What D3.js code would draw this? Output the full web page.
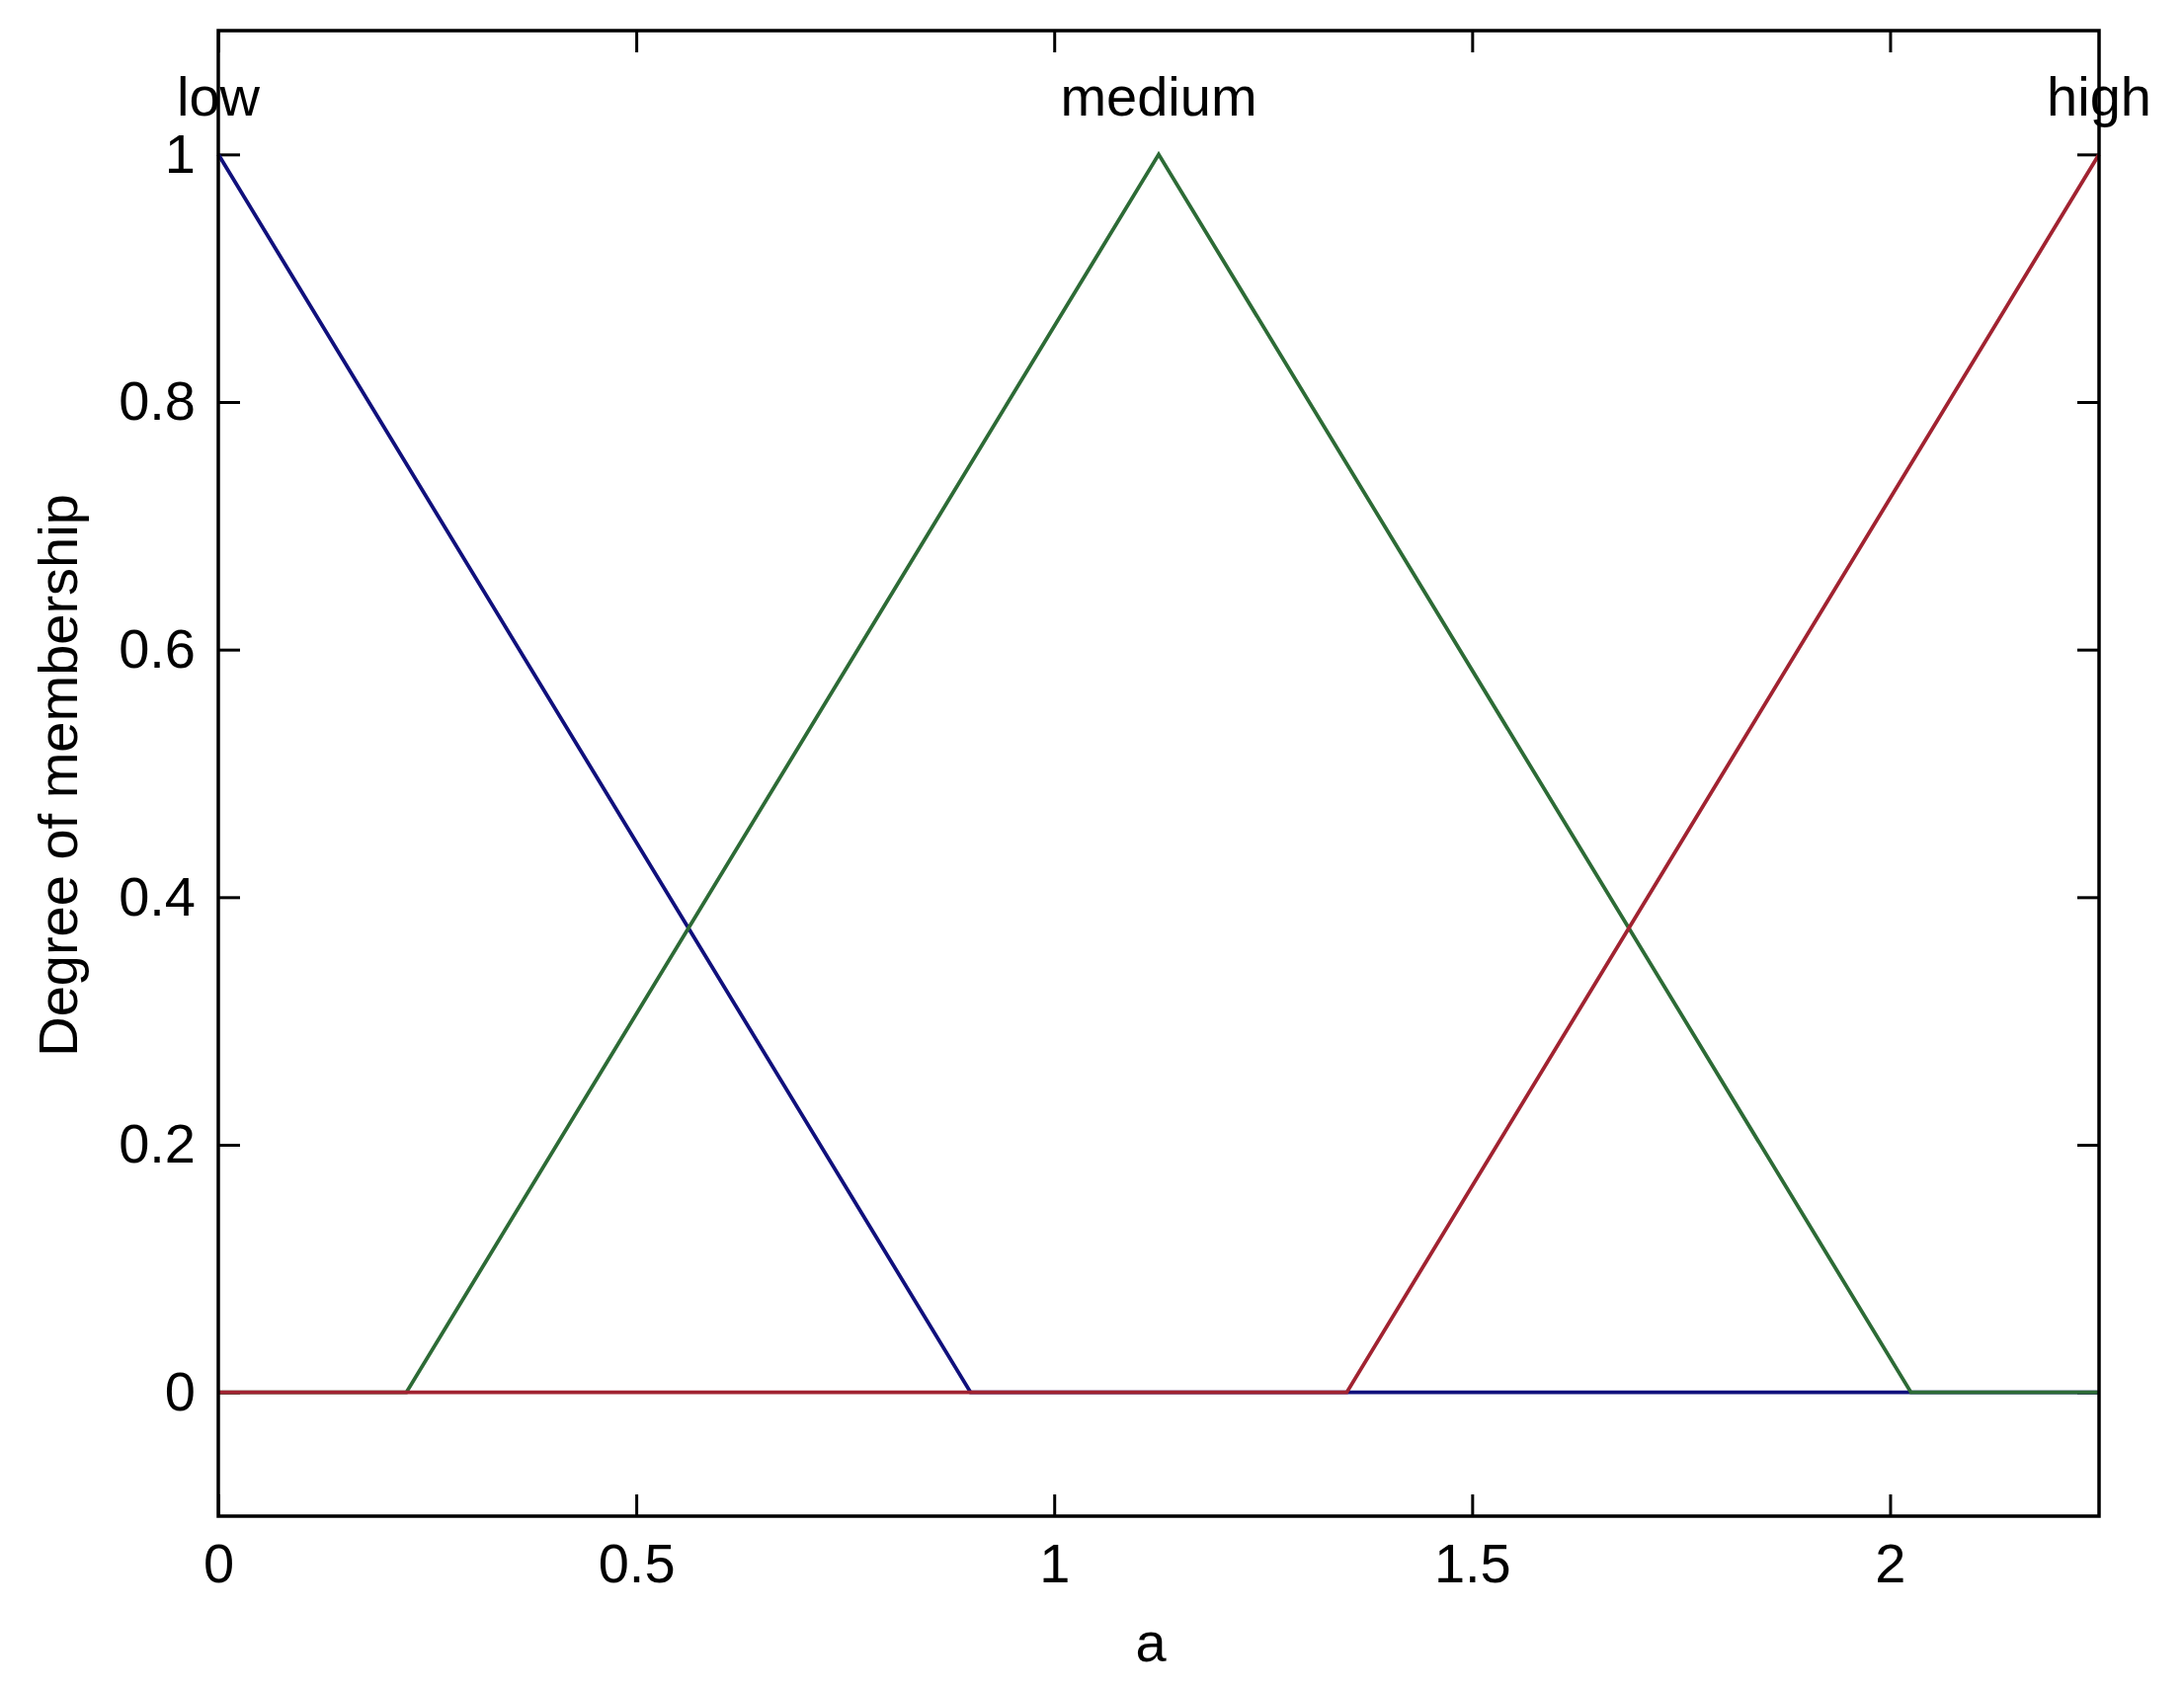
<!DOCTYPE html>
<html>
<head>
<meta charset="utf-8">
<script src="https://cdnjs.cloudflare.com/ajax/libs/d3/7.8.5/d3.min.js"></script>
<style>
  html, body { margin: 0; padding: 0; background: #fff; }
  text { font-family: "Liberation Sans", Arial, sans-serif; fill: #000; }
</style>
</head>
<body>
<svg id="chart" width="2211" height="1710"></svg>
<script>
// membership functions: trimf vertices [a, b, c] on input "a"
var mfNames = ["low", "medium", "high"];
var mfParams = [[-0.9, 0, 0.9], [0.225, 1.125, 2.025], [1.35, 2.25, 3.15]];
var mfColors = ["#10107c", "#2d6b36", "#a12331"];
var xRange = [0, 2.25];
var yRange = [-0.1, 1.1];
var xTicks = [0, 0.5, 1, 1.5, 2];
var yTicks = [0, 0.2, 0.4, 0.6, 0.8, 1];

var svg = d3.select("#chart");
var margins = {left: 221, top: 31, right: 2211 - 2125, bottom: 1710 - 1535};
var width = 2211 - margins.left - margins.right;
var height = 1710 - margins.top - margins.bottom;

var x = d3.scaleLinear().domain(xRange).range([0, width]);
var y = d3.scaleLinear().domain(yRange).range([height, 0]);

var g = svg.append("g")
    .attr("transform", "translate(" + margins.left + "," + margins.top + ")");

//build the polyline for each mf, clipped to the input range
function mfPoints(p) {
    function val(t) {
        if (t <= p[0] || t >= p[2]) return 0;
        return t <= p[1] ? (t - p[0]) / (p[1] - p[0]) : (p[2] - t) / (p[2] - p[1]);
    }
    var pts = [[xRange[0], p[1] === xRange[0] ? 1 : val(xRange[0])]];
    p.forEach(function(v, i) {
        if (v > xRange[0] && v < xRange[1]) pts.push([v, i === 1 ? 1 : 0]);
    });
    pts.push([xRange[1], p[1] === xRange[1] ? 1 : val(xRange[1])]);
    return pts;
}

// inward ticks on all four sides
var tickLen = 22;
var fmt = function(d) { return String(d); };
g.append("g")
    .attr("transform", "translate(0," + height + ")")
    .call(d3.axisBottom(x).tickValues(xTicks).tickSize(-tickLen).tickPadding(27).tickFormat(fmt));
g.append("g")
    .call(d3.axisTop(x).tickValues(xTicks).tickSize(-tickLen).tickFormat(""));
g.append("g")
    .call(d3.axisLeft(y).tickValues(yTicks).tickSize(-tickLen).tickPadding(23).tickFormat(fmt));
g.append("g")
    .attr("transform", "translate(" + width + ",0)")
    .call(d3.axisRight(y).tickValues(yTicks).tickSize(-tickLen).tickFormat(""));

g.selectAll(".domain").remove();
g.selectAll(".tick line").attr("stroke", "#000").attr("stroke-width", 3);
g.selectAll(".tick text").style("font-size", "56px").attr("fill", "#000");

var line = d3.line()
    .x(function(d) { return x(d[0]); })
    .y(function(d) { return y(d[1]); });

var series = g.append("g").attr("class", "vis-series");
series.selectAll("path.mf")
    .data(mfParams)
    .enter()
    .append("path")
    .attr("class", "mf")
    .attr("d", function(d) { return line(mfPoints(d)); })
    .attr("fill", "none")
    .attr("stroke", function(d, i) { return mfColors[i]; })
    .attr("stroke-width", 3.8);

// mf names above the peaks
g.selectAll("text.mf-name")
    .data(mfParams)
    .enter()
    .append("text")
    .attr("class", "mf-name")
    .attr("x", function(d) { return x(d[1]); })
    .attr("y", 117 - margins.top)
    .attr("text-anchor", "middle")
    .style("font-size", "56px")
    .text(function(d, i) { return mfNames[i]; });

// frame
g.append("rect")
    .attr("width", width)
    .attr("height", height)
    .attr("fill", "none")
    .attr("stroke", "#000")
    .attr("stroke-width", 3.5);

// axis titles
svg.append("text")
    .attr("x", margins.left + x(1.125) - 8)
    .attr("y", 1682)
    .attr("text-anchor", "middle")
    .style("font-size", "56px")
    .text("a");

svg.append("text")
    .attr("transform", "translate(78," + 785 + ") rotate(-90)")
    .attr("text-anchor", "middle")
    .style("font-size", "56px")
    .text("Degree of membership");
</script>
</body>
</html>
